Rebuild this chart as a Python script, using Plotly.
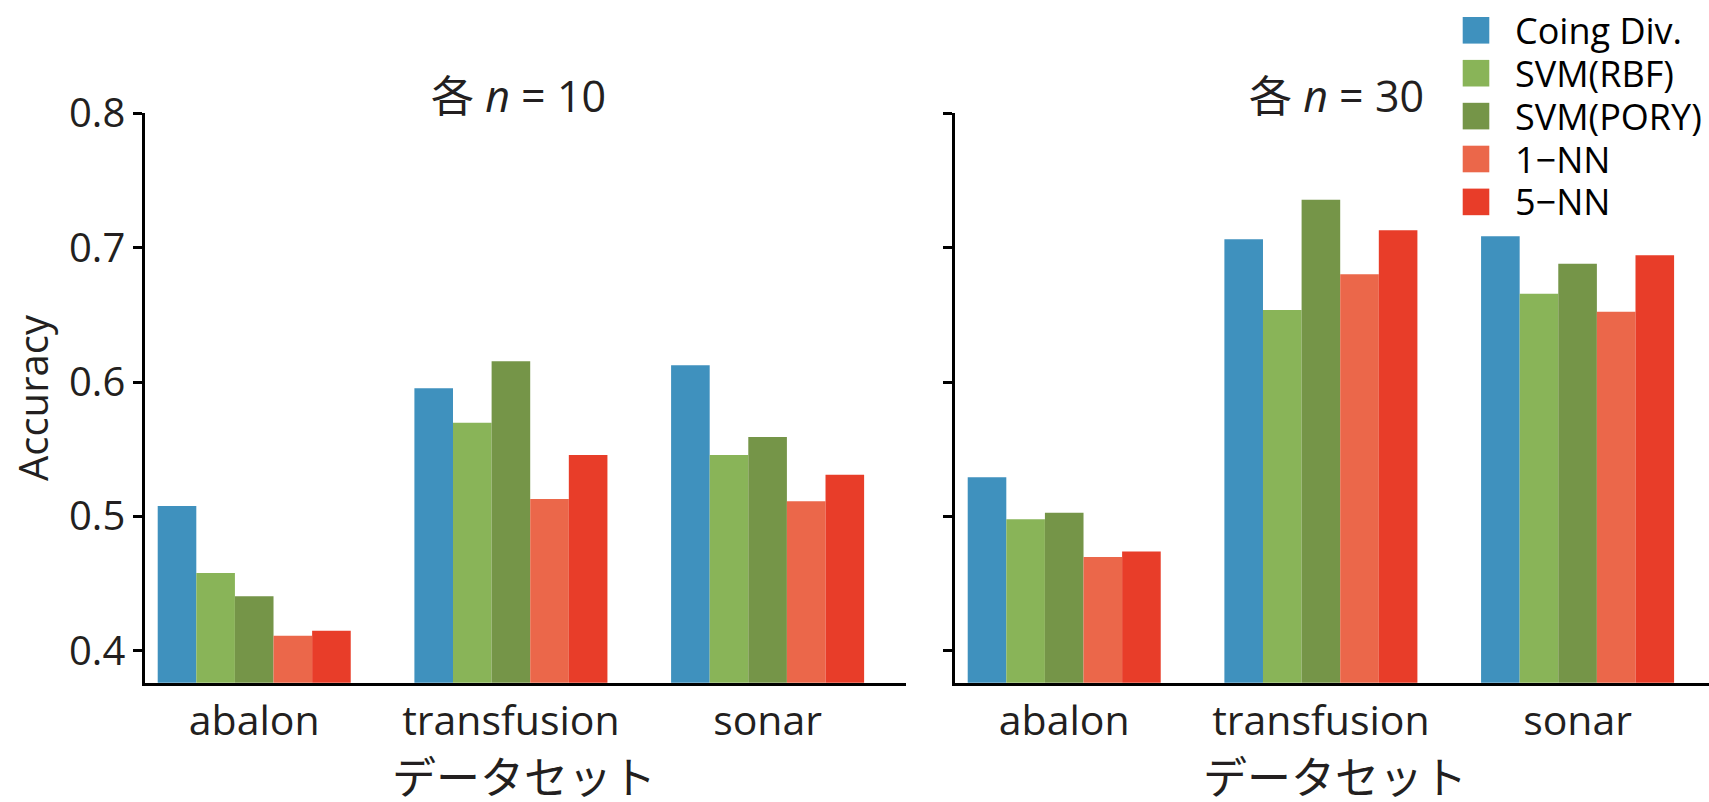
import plotly.graph_objects as go

# ---- data ----
datasets = ["abalon", "transfusion", "sonar"]
methods = ["Coing Div.", "SVM(RBF)", "SVM(PORY)", "1\u2212NN", "5\u2212NN"]
colors = ["#3f91be", "#89b458", "#759548", "#eb674a", "#e83d29"]

acc_n10_coing = [0.5077, 0.5953, 0.6124]
acc_n10_rbf = [0.4578, 0.5697, 0.5457]
acc_n10_pory = [0.4405, 0.6154, 0.5591]
acc_n10_1nn = [0.4112, 0.5129, 0.5112]
acc_n10_5nn = [0.4149, 0.5457, 0.5310]

acc_n30_coing = [0.5291, 0.7062, 0.7084]
acc_n30_rbf = [0.4978, 0.6536, 0.6657]
acc_n30_pory = [0.5027, 0.7357, 0.6881]
acc_n30_1nn = [0.4697, 0.6802, 0.6523]
acc_n30_5nn = [0.4738, 0.7129, 0.6943]

panel_titles = ["各 <i>n</i> = 10", "各 <i>n</i> = 30"]
x_title = "データセット"
y_title = "Accuracy"
y_ticks = [0.4, 0.5, 0.6, 0.7, 0.8]

series_n10 = [acc_n10_coing, acc_n10_rbf, acc_n10_pory, acc_n10_1nn, acc_n10_5nn]
series_n30 = [acc_n30_coing, acc_n30_rbf, acc_n30_pory, acc_n30_1nn, acc_n30_5nn]

W, H = 1709, 802
FONT = "Open Sans, Noto Sans CJK JP, sans-serif"
TXT = "#231f20"

fig = go.Figure()
for vals_list, xa, ya in [(series_n10, "x", "y"), (series_n30, "x2", "y2")]:
    for name, col, vals in zip(methods, colors, vals_list):
        fig.add_trace(go.Bar(
            x=datasets, y=vals, name=name, xaxis=xa, yaxis=ya,
            marker=dict(color=col, line=dict(width=0)),
            showlegend=False,
        ))

def px_x(p):
    return p / W

def px_y(p):
    return 1 - p / H

y_bottom_px, y_top_px = 682.7, 113.3
ydom = [px_y(y_bottom_px), px_y(y_top_px)]
yrange = [0.3762, 0.8]

common_x = dict(
    type="category", showline=True, linecolor="black", linewidth=2.5,
    ticks="", showgrid=False, zeroline=False, automargin=False,
    tickfont=dict(family=FONT, size=41, color=TXT),
    ticklabelstandoff=0,
)
common_y = dict(
    range=yrange, showline=True, linecolor="black", linewidth=2.5,
    ticks="outside", ticklen=9, tickwidth=2.5, tickcolor="black",
    tickvals=y_ticks, showgrid=False, zeroline=False, automargin=False,
    tickfont=dict(family=FONT, size=40, color=TXT),
)

fig.update_layout(
    template="none",
    width=W, height=H, autosize=False,
    margin=dict(l=0, r=0, t=0, b=0, pad=0),
    paper_bgcolor="white", plot_bgcolor="white",
    showlegend=False,
    barmode="group", bargap=0.248, bargroupgap=0,
    xaxis=dict(domain=[px_x(145), px_x(905.7)], range=[-0.4255, 2.538], anchor="y", **common_x),
    xaxis2=dict(domain=[px_x(955), 1.0], range=[-0.4255, 2.512], anchor="y2", **common_x),
    yaxis=dict(domain=ydom, anchor="x", ticktext=[f"{v:.1f}" for v in y_ticks], **common_y),
    yaxis2=dict(domain=ydom, anchor="x2", showticklabels=False, **common_y),
)

ann = []
# panel titles
for t, cx in zip(panel_titles, [518, 1336]):
    ann.append(dict(text=t, x=px_x(cx), y=px_y(96), xref="paper", yref="paper",
                    xanchor="center", yanchor="middle", showarrow=False,
                    font=dict(family=FONT, size=43, color=TXT)))
# x titles
for cx in [524, 1335]:
    ann.append(dict(text=x_title, x=px_x(cx), y=px_y(775), xref="paper", yref="paper",
                    xanchor="center", yanchor="middle", showarrow=False,
                    font=dict(family="Noto Sans CJK JP, sans-serif", size=44, color=TXT)))
# y title
ann.append(dict(text=y_title, x=px_x(32), y=px_y(398), xref="paper", yref="paper",
                xanchor="center", yanchor="middle", showarrow=False, textangle=-90,
                font=dict(family=FONT, size=40, color=TXT)))

# manual legend (large square swatches)
shapes = []
leg_x0, leg_sz, leg_y0, leg_dy = 1462.7, 26.6, 30.3, 42.9
for i, (name, col) in enumerate(zip(methods, colors)):
    cy = leg_y0 + i * leg_dy
    shapes.append(dict(type="rect", xref="paper", yref="paper",
                       x0=px_x(leg_x0), x1=px_x(leg_x0 + leg_sz),
                       y0=px_y(cy + leg_sz / 2), y1=px_y(cy - leg_sz / 2),
                       fillcolor=col, line=dict(width=0)))
    ann.append(dict(text=name, x=px_x(1513), y=px_y(cy), xref="paper", yref="paper",
                    xanchor="left", yanchor="middle", showarrow=False,
                    font=dict(family=FONT, size=36, color="black")))

fig.update_layout(annotations=ann, shapes=shapes)
fig.write_html(
    "out.html",
    config={"displayModeBar": False, "responsive": False},
    post_script="document.body.style.margin='0';document.body.style.overflow='hidden';",
)
